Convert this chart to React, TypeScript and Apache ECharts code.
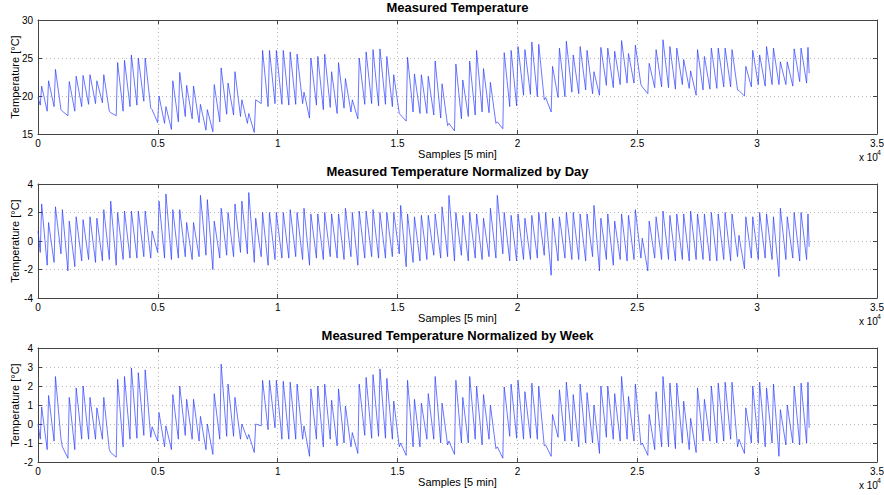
import React, { useEffect, useRef } from "react";
import * as echarts from "echarts";

// ---------- data ----------
const DAY = 288; // samples per day (5-min samples)
const titles = [
  "Measured Temperature",
  "Measured Temperature Normalized by Day",
  "Measured Temperature Normalized by Week",
];
const xTicks = [0, 5000, 10000, 15000, 20000, 25000, 30000, 35000];
const yTicks1 = [15, 20, 25, 30];
const yTicks2 = [-4, -2, 0, 2, 4];
const yTicks3 = [-2, -1, 0, 1, 2, 3, 4];

// Plot 1: measured temperature, daily minima (before the rise) and daily maxima
const start1 = 19.8;
const end1 = 23.0;
const trough1 = [
  18.8, 18.0, 18.6, 18.2, 17.4, 18.0, 18.6, 18.9, 19.0, 19.1,
  18.0, 17.4, 18.0, 18.6, 18.8, 19.3, 18.4, 16.5, 16.4, 15.6,
  16.6, 17.3, 17.0, 16.5, 15.5, 15.3, 16.6, 17.6, 17.5, 17.3,
  16.4, 15.2, 19.0, 18.6, 19.0, 18.9, 18.8, 18.9, 19.0, 17.1,
  18.8, 18.2, 18.5, 17.7, 18.4, 17.9, 17.0, 18.9, 19.0, 18.7,
  18.9, 18.6, 17.7, 16.7, 17.9, 17.7, 17.7, 17.5, 17.1, 16.1,
  15.4, 17.0, 17.3, 17.5, 17.9, 17.8, 16.4, 15.7, 18.6, 18.7,
  20.1, 20.2, 19.9, 19.5, 17.9, 19.8, 19.9, 20.5, 20.3, 20.8,
  20.3, 20.1, 21.4, 21.1, 21.5, 21.7, 21.7, 21.5, 20.3, 21.1,
  21.2, 21.1, 20.9, 21.5, 21.0, 20.1, 20.8, 20.9, 21.0, 21.2,
  21.2, 20.8, 20.0, 21.2, 21.5, 21.3, 21.5, 21.5, 21.5, 21.3,
  21.9, 21.7,
];
const peak1 = [
  21.3, 22.0, 23.5, 18.0, 21.9, 22.6, 22.7, 22.8, 22.0, 22.8,
  17.8, 24.4, 24.7, 25.4, 25.0, 25.0, 18.2, 20.0, 18.6, 22.0,
  23.1, 21.4, 21.3, 18.9, 18.2, 21.5, 23.7, 21.7, 23.2, 19.5,
  17.7, 19.5, 26.0, 26.0, 26.0, 26.0, 25.8, 25.5, 20.5, 25.0,
  25.2, 25.5, 23.2, 24.4, 22.3, 19.5, 25.0, 25.8, 26.1, 26.2,
  25.2, 22.8, 17.5, 25.1, 22.9, 22.8, 22.6, 24.6, 21.6, 16.4,
  24.2, 22.1, 24.6, 26.0, 23.6, 21.8, 16.6, 25.7, 26.0, 26.5,
  26.1, 27.1, 26.8, 19.8, 23.9, 26.3, 27.2, 25.4, 26.5, 26.0,
  23.2, 26.4, 26.3, 25.9, 27.3, 25.6, 26.7, 21.2, 24.3, 26.1,
  27.4, 26.5, 26.3, 24.8, 23.3, 26.1, 25.2, 26.3, 26.3, 26.3,
  26.1, 20.7, 23.9, 26.0, 25.4, 26.5, 26.3, 24.5, 24.5, 26.2,
  26.3, 26.4,
];

// Plot 2: normalized by day
const start2 = 0.7;
const end2 = -0.4;
const trough2 = [
  -0.8, -1.7, -1.5, -0.9, -2.1, -1.8, -1.4, -1.3, -1.5, -1.4,
  -1.3, -1.7, -1.3, -1.2, -1.2, -1.1, -1.2, -0.8, -1.2, -1.3,
  -1.2, -1.1, -1.3, -1.1, -1.0, -2.0, -1.2, -1.0, -1.1, -0.8,
  -0.9, -1.5, -1.1, -1.7, -1.3, -1.2, -1.2, -1.1, -1.3, -1.7,
  -1.2, -1.3, -1.1, -1.2, -1.3, -1.1, -1.7, -1.2, -1.1, -1.2,
  -1.2, -1.1, -0.9, -1.8, -1.5, -1.4, -1.3, -1.0, -1.2, -1.1,
  -1.4, -1.0, -1.4, -1.2, -1.3, -1.1, -1.2, -0.9, -1.4, -1.4,
  -1.3, -1.3, -1.2, -1.0, -2.4, -1.4, -1.2, -1.3, -1.3, -1.4,
  -1.1, -2.1, -1.3, -1.7, -1.3, -1.4, -1.3, -1.2, -2.1, -1.2,
  -1.3, -1.3, -1.4, -1.3, -1.4, -1.3, -1.3, -1.4, -1.4, -1.3,
  -1.4, -1.1, -1.95, -1.2, -1.3, -1.2, -1.3, -2.5, -1.3, -1.2,
  -1.4, -1.3,
];
const peak2 = [
  2.6, 1.3, 2.4, 2.2, 1.4, 1.7, 1.5, 1.7, 1.6, 2.2,
  2.8, 2.0, 2.1, 2.1, 2.1, 2.1, 0.7, 2.8, 3.3, 2.2,
  2.2, 1.3, 1.3, 3.2, 2.9, 1.4, 2.3, 2.0, 2.6, 2.8,
  3.4, 1.6, 2.0, 2.0, 2.0, 2.0, 2.2, 2.0, 2.3, 1.9,
  1.9, 2.0, 1.9, 1.9, 2.3, 2.0, 2.1, 2.1, 2.2, 2.0,
  2.0, 2.0, 2.5, 1.9, 1.7, 1.8, 1.8, 1.9, 2.4, 3.2,
  2.0, 1.8, 2.0, 1.9, 1.6, 2.3, 3.2, 2.0, 1.8, 1.9,
  1.6, 1.8, 2.0, 2.0, 1.6, 1.7, 2.0, 2.0, 1.9, 1.9,
  2.5, 1.6, 1.9, 1.4, 1.9, 1.8, 2.2, 0.2, 1.4, 1.7,
  2.1, 1.8, 1.9, 1.9, 2.1, 1.9, 1.9, 2.0, 1.9, 2.0,
  1.9, 0.4, 1.7, 1.7, 2.0, 1.9, 1.7, 2.3, 1.7, 2.0,
  2.0, 1.9,
];

// Plot 3: normalized by week
const start3 = 0.0;
const end3 = -0.2;
const trough3 = [
  -0.8, -1.35, -0.9, -0.8, -1.8, -1.35, -0.8, -0.8, -0.8, -0.8,
  -1.35, -1.75, -1.2, -0.8, -0.75, -0.6, -0.7, -0.9, -1.2, -1.35,
  -0.8, -0.6, -0.8, -0.9, -1.35, -1.6, -0.8, -0.65, -0.65, -0.8,
  -0.8, -1.5, -0.1, -0.3, -0.2, -0.8, -0.8, -0.8, -0.8, -1.7,
  -0.8, -1.2, -0.8, -1.15, -1.0, -1.2, -1.55, -0.6, -0.75, -0.65,
  -0.75, -0.8, -1.2, -1.65, -1.2, -1.2, -0.8, -0.8, -1.0, -1.1,
  -1.6, -1.0, -1.0, -0.8, -1.1, -0.8, -1.3, -1.8, -0.65, -0.75,
  -0.8, -0.75, -0.8, -1.15, -1.7, -0.7, -0.9, -0.9, -1.2, -1.0,
  -1.0, -1.55, -0.7, -0.8, -0.9, -0.8, -0.9, -1.1, -1.65, -1.35,
  -1.2, -1.2, -1.3, -1.0, -1.35, -1.5, -0.9, -0.9, -1.0, -0.9,
  -0.8, -1.2, -1.55, -1.0, -1.0, -1.2, -1.0, -1.7, -1.1, -1.0,
  -1.1, -1.0,
];
const peak3 = [
  0.9, 1.5, 2.5, -1.2, 1.4, 1.9, 2.0, 1.4, 0.85, 1.4,
  -1.5, 2.35, 2.5, 2.95, 2.7, 2.85, -0.15, 0.6, -0.1, 1.55,
  2.0, 1.3, 1.3, 0.4, 0.0, 1.6, 3.15, 2.1, 1.4, 0.0,
  -0.55, 0.0, 2.3, 2.3, 2.3, 2.25, 2.2, 2.1, -0.1, 1.85,
  2.0, 2.1, 1.25, 1.85, 0.95, -0.45, 2.1, 2.45, 2.6, 2.9,
  2.4, 1.2, -1.0, 2.3, 1.3, 1.1, 1.6, 2.5, 1.1, -0.9,
  2.3, 1.4, 2.5, 2.0, 1.55, 1.0, -1.2, 1.95, 2.1, 2.3,
  1.7, 2.15, 2.0, -1.1, 0.5, 1.8, 2.2, 1.55, 2.1, 1.65,
  1.0, 2.0, 2.0, 1.6, 2.5, 1.45, 2.1, -1.0, 0.5, 1.7,
  2.5, 2.15, 2.15, 1.2, 0.3, 1.9, 1.3, 2.0, 2.15, 2.2,
  2.2, -0.8, 0.85, 2.0, 2.2, 1.9, 2.1, 0.75, 1.0, 2.0,
  2.15, 2.2,
];
const lastSample = 32170;

// ---------- helpers ----------
function buildSeries(start: number, troughs: number[], peaks: number[], end: number) {
  const pts: [number, number][] = [[0, start]];
  troughs.forEach((t, i) => {
    pts.push([(i + 0.33) * DAY, t]);
    pts.push([(i + 0.53) * DAY, peaks[i]]);
  });
  pts.push([lastSample, end]);
  return pts;
}

const FONT = '"Liberation Sans", Arial, Helvetica, sans-serif';
const GRID_LEFT = 38;
const GRID_WIDTH = 839;
const grids = [
  { top: 20, height: 114 },
  { top: 184, height: 114 },
  { top: 348, height: 114 },
];
const yDefs = [yTicks1, yTicks2, yTicks3];

export default function App() {
  const ref = useRef<HTMLDivElement>(null);

  useEffect(() => {
    if (!ref.current) return;
    const chart = echarts.init(ref.current, undefined, { renderer: "svg" });

    const seriesData = [
      buildSeries(start1, trough1, peak1, end1),
      buildSeries(start2, trough2, peak2, end2),
      buildSeries(start3, trough3, peak3, end3),
    ];

    const axisLine = { show: true, onZero: false, lineStyle: { color: "#444", width: 1 } };
    const axisTick = { show: true, inside: true, length: 4, lineStyle: { color: "#444" } };
    const split = { show: true, lineStyle: { color: "#b8b8b8", type: [1, 3], width: 1 } };

    const xAxes: any[] = [];
    const yAxes: any[] = [];
    grids.forEach((g, k) => {
      const xBase = {
        type: "value",
        gridIndex: k,
        min: xTicks[0],
        max: xTicks[xTicks.length - 1],
        interval: xTicks[1] - xTicks[0],
      };
      xAxes.push({
        ...xBase,
        position: "bottom",
        name: "Samples [5 min]",
        nameLocation: "middle",
        nameGap: 14,
        nameMoveOverlap: false,
        nameTextStyle: { fontFamily: FONT, fontSize: 11, color: "#000" },
        axisLine,
        axisTick,
        axisLabel: {
          fontFamily: FONT,
          fontSize: 10,
          color: "#000",
          margin: 4,
          formatter: (v: number) => String(v / 10000),
        },
        splitLine: split,
      });
      xAxes.push({
        ...xBase,
        position: "top",
        axisLine,
        axisTick,
        axisLabel: { show: false },
        splitLine: { show: false },
      });
      const yt = yDefs[k];
      const yBase = {
        type: "value",
        gridIndex: k,
        min: yt[0],
        max: yt[yt.length - 1],
        interval: yt[1] - yt[0],
      };
      yAxes.push({
        ...yBase,
        position: "left",
        name: "Temperature [°C]",
        nameLocation: "middle",
        nameGap: 18,
        nameMoveOverlap: false,
        nameRotate: 90,
        nameTextStyle: { fontFamily: FONT, fontSize: 11, color: "#000" },
        axisLine,
        axisTick,
        axisLabel: { fontFamily: FONT, fontSize: 10, color: "#000", margin: 5 },
        splitLine: split,
      });
      yAxes.push({
        ...yBase,
        position: "right",
        axisLine,
        axisTick,
        axisLabel: { show: false },
        splitLine: { show: false },
      });
    });

    const exponentTexts: any[] = [];
    grids.forEach((g) => {
      const yb = g.top + g.height;
      exponentTexts.push({
        type: "text",
        left: 859,
        top: yb + 18,
        style: { text: "x 10", fontFamily: FONT, fontSize: 10, fill: "#000" },
      });
      exponentTexts.push({
        type: "text",
        left: 877,
        top: yb + 15,
        style: { text: "4", fontFamily: FONT, fontSize: 7, fill: "#000" },
      });
    });

    chart.setOption({
      animation: false,
      backgroundColor: "#fff",
      title: grids.map((g, k) => ({
        text: titles[k],
        left: GRID_LEFT + GRID_WIDTH / 2,
        textAlign: "center",
        top: g.top - 19,
        padding: 0,
        textStyle: { fontFamily: FONT, fontSize: 13, fontWeight: "bold", color: "#000" },
      })),
      grid: grids.map((g) => ({
        left: GRID_LEFT,
        width: GRID_WIDTH,
        top: g.top,
        height: g.height,
        show: false,
        containLabel: false,
        outerBoundsMode: "none",
      })),
      xAxis: xAxes,
      yAxis: yAxes,
      graphic: exponentTexts,
      series: seriesData.map((d, k) => ({
        type: "line",
        xAxisIndex: k * 2,
        yAxisIndex: k * 2,
        data: d,
        showSymbol: false,
        symbol: "none",
        lineStyle: { color: "#2a3cff", width: 0.7 },
        z: 3,
      })),
    });

    return () => chart.dispose();
  }, []);

  return (
    <div
      ref={ref}
      style={{ position: "absolute", left: 0, top: 0, width: 884, height: 495, background: "#fff" }}
    />
  );
}
